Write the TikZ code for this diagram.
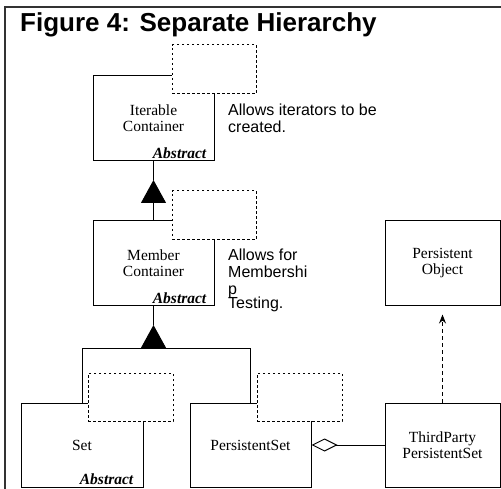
\documentclass[tikz,border=0pt]{standalone}
\usepackage{fontspec}
\setmainfont{Liberation Serif}
\setsansfont{Liberation Sans}
\usepackage{tikz}
\usetikzlibrary{arrows.meta,positioning,calc}

\newcommand{\classfont}{\fontsize{15.5}{16}\selectfont}
\newcommand{\notefont}{\sffamily\fontsize{16}{17}\selectfont}

\tikzset{
  classbox/.style={draw, line width=1pt, minimum width=121pt, minimum height=85pt,
    align=center, font=\classfont},
  tmplbox/.style={draw, line width=1pt, dash pattern=on 2.5pt off 2.5pt, fill=white,
    minimum width=84pt, minimum height=49pt},
  abstractlbl/.style={anchor=base east, inner sep=0pt, font=\classfont\bfseries\itshape},
  note/.style={anchor=north west, inner sep=0pt, align=left, font=\notefont},
  link/.style={line width=1pt},
}

\begin{document}
\begin{tikzpicture}[x=1pt,y=-1pt]
    \useasboundingbox (0,0) rectangle (501,489);

    % Frame and title
    \draw[line width=1.5pt,black!80] (5,489) -- (5,7) -- (501,7);
    \node[anchor=base west, inner sep=0pt, font=\sffamily\bfseries\fontsize{26}{28}\selectfont]
      (title) at (20,32) {Figure 4: Separate Hierarchy};

    % Class boxes
    \node[classbox] (iter) at (153.5,118.5) {Iterable\\Container};
    \node[classbox] (member) at (153.5,263.5) {Member\\Container};
    \node[classbox, minimum width=122pt, minimum height=84pt] (set) at (82,445) {Set};
    \node[classbox, minimum height=84pt] (pset) at (250.5,445) {PersistentSet};
    \node[classbox, minimum width=115pt, minimum height=84pt] (third) at (442.5,445) {ThirdParty\\PersistentSet};
    \node[classbox, minimum width=115pt] (pobj) at (442.5,263.5) {Persistent\\Object};

    % Template boxes
    \node[tmplbox] (iterTmpl) at (214,69.5) {};
    \node[tmplbox] (memberTmpl) at (214,215.5) {};
    \node[tmplbox, minimum width=85pt, minimum height=48pt] (setTmpl) at (130.5,397) {};
    \node[tmplbox, minimum width=85pt, minimum height=48pt] (psetTmpl) at (299.5,397) {};

    % Abstract labels
    \node[abstractlbl] (iterAbs) at ($(iter.south east)+(-8,-3)$) {Abstract};
    \node[abstractlbl] (memberAbs) at ($(member.south east)+(-8,-3)$) {Abstract};
    \node[abstractlbl] (setAbs) at ($(set.south east)+(-10,-3)$) {Abstract};

    % Notes
    \node[note] (iterNote) at (228,104) {Allows iterators to be\\created.};
    \node[note] (memberNote) at (228,249) {Allows for\\Membershi\\p\\[-3pt]Testing.};

    % Inheritance
    \coordinate (tip1) at (153.5,180);
    \coordinate (tip2) at (153.5,325);
    \coordinate (fork) at (153.5,348);
    \draw[link,-{Triangle[width=25pt,length=23pt]}] (member.north) -- (tip1);
    \draw[link] (tip1) -- (iter.south);
    \draw[link,-{Triangle[width=25pt,length=23pt]}] (fork) -- (tip2);
    \draw[link] (tip2) -- (member.south);
    \draw[link] (set.north) -- (set.north |- fork) -- (pset.north |- fork) -- (pset.north);

    % Aggregation and dependency
    \draw[link,{Diamond[open,width=13pt,length=26pt]}-] (pset.east) -- (third.west);
    \draw[link,dash pattern=on 4pt off 3pt,-{Stealth[length=9pt,width=7pt]},shorten >=8pt]
      (third.north) -- (pobj.south);
\end{tikzpicture}
\end{document}
